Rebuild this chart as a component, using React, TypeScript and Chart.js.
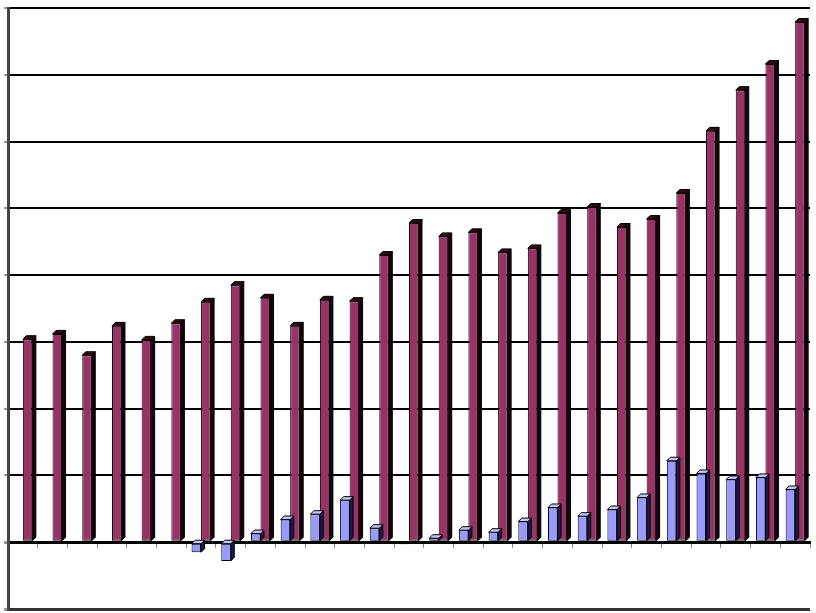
import React, { useEffect, useRef } from "react";
import { Chart, registerables } from "chart.js";

Chart.register(...registerables);

const categories = ["1","2","3","4","5","6","7","8","9","10","11","12","13","14","15","16","17","18","19","20","21","22","23","24","25","26","27"];
const seriesA = [0, 0, 0, 0, 0, 0, -0.15, -0.28, 0.13, 0.34, 0.42, 0.63, 0.21, -0.03, 0.06, 0.18, 0.15, 0.31, 0.52, 0.39, 0.49, 0.67, 1.22, 1.03, 0.94, 0.97, 0.79];
const seriesB = [3.04, 3.12, 2.8, 3.24, 3.03, 3.28, 3.6, 3.85, 3.66, 3.24, 3.63, 3.61, 4.3, 4.78, 4.58, 4.64, 4.34, 4.4, 4.93, 5.02, 4.72, 4.84, 5.23, 6.16, 6.77, 7.16, 7.79];
const yMin = -1;
const yMax = 8;

const depthPlugin = {
  id: "depth3d",
  afterDatasetDraw(chart: any, args: any) {
    const meta = chart.getDatasetMeta(args.index);
    const ctx = chart.ctx;
    const d = 3.5;
    const side = args.index === 0 ? "#1a1a4d" : "#1a000d";
    const topC = args.index === 0 ? "#c4c4ff" : "#2e0818";
    meta.data.forEach((bar: any) => {
      const p = bar.getProps(["x", "y", "base", "width"], true);
      const l = p.x - p.width / 2;
      const r = p.x + p.width / 2;
      const top = Math.min(p.y, p.base);
      const bot = Math.max(p.y, p.base);
      if (bot - top < 0.8) return;
      ctx.save();
      ctx.lineWidth = 1;
      ctx.strokeStyle = "#000";
      ctx.fillStyle = side;
      ctx.beginPath();
      ctx.moveTo(r, top);
      ctx.lineTo(r + d, top - d);
      ctx.lineTo(r + d, bot - d);
      ctx.lineTo(r, bot);
      ctx.closePath();
      ctx.fill();
      ctx.stroke();
      ctx.fillStyle = topC;
      ctx.beginPath();
      ctx.moveTo(l, top);
      ctx.lineTo(l + d, top - d);
      ctx.lineTo(r + d, top - d);
      ctx.lineTo(r, top);
      ctx.closePath();
      ctx.fill();
      ctx.stroke();
      ctx.restore();
    });
  },
};

export default function App() {
  const ref = useRef<HTMLCanvasElement | null>(null);
  useEffect(() => {
    if (!ref.current) return;
    const chart = new Chart(ref.current, {
      type: "bar",
      data: {
        labels: categories,
        datasets: [
          { label: "A", data: seriesA, backgroundColor: "#9999FF", borderColor: "#000", borderWidth: 1, borderSkipped: false, categoryPercentage: 0.64, barPercentage: 1 },
          { label: "B", data: seriesB, backgroundColor: "#993366", borderColor: "#000", borderWidth: 1, borderSkipped: false, categoryPercentage: 0.64, barPercentage: 1 },
        ],
      },
      options: {
        animation: false,
        responsive: false,
        devicePixelRatio: 1,
        layout: { padding: { top: 8, left: 4, right: 6, bottom: 4 } },
        plugins: { legend: { display: false }, tooltip: { enabled: false } },
        scales: {
          x: {
            position: { y: 0 } as any,
            ticks: { display: false },
            grid: { drawOnChartArea: false, drawTicks: true, tickLength: 4, color: "#888", lineWidth: 1 },
            border: { display: true, color: "#000", width: 3 },
          },
          y: {
            min: yMin,
            max: yMax,
            ticks: { display: false, stepSize: 1 },
            grid: {
              color: (c: any) => (c.tick && c.tick.value === yMin ? "#333" : "#000"),
              lineWidth: (c: any) => (c.tick && (c.tick.value === 0 || c.tick.value === yMin) ? 3 : 2),
              tickLength: 4,
              tickColor: "#999",
            },
            border: { display: true, color: "#444", width: 3 },
          },
        },
      },
      plugins: [depthPlugin],
    });
    return () => chart.destroy();
  }, []);
  return (
    <div style={{ position: "fixed", left: 0, top: 0, width: 816, height: 613, background: "#fff" }}>
      <canvas ref={ref} width={816} height={613} />
    </div>
  );
}
